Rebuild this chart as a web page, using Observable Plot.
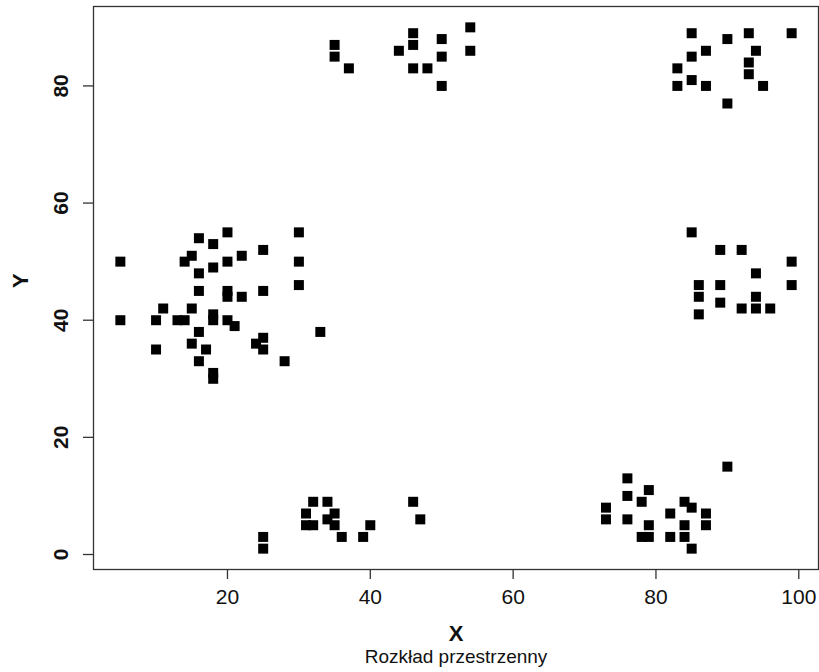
<!DOCTYPE html>
<html>
<head>
<meta charset="utf-8">
<script src="https://cdn.jsdelivr.net/npm/d3@7"></script>
<script src="https://cdn.jsdelivr.net/npm/@observablehq/plot@0.6"></script>
<style>
  html, body { margin: 0; padding: 0; background: #fff; }
  #chart svg { display: block; }
</style>
</head>
<body>
<div id="chart"></div>
<script>
// Point coordinates
const xs = [
  5, 5, 10, 10, 11, 13, 14, 14, 15, 16, 16, 16, 15, 16, 15, 17, 16, 18, 18, 18, 18, 18, 18,
  20, 20, 20, 20, 20, 21, 22, 22, 25, 25, 25, 24, 25, 28, 30, 30, 30, 33,
  35, 35, 37, 44, 46, 46, 46, 48, 50, 50, 50, 54, 54,
  85, 90, 93, 99, 87, 85, 83, 83, 85, 87, 94, 93, 93, 95, 90,
  85, 89, 92, 99, 94, 86, 89, 99, 86, 89, 94, 92, 94, 96, 86,
  25, 25, 32, 34, 31, 31, 32, 34, 35, 35, 36, 39, 40, 46, 47,
  90, 76, 76, 79, 78, 73, 73, 76, 79, 78, 79, 82, 82, 84, 85, 84, 84, 85, 87, 87
];
const ys = [
  50, 40, 40, 35, 42, 40, 40, 50, 51, 54, 48, 45, 42, 38, 36, 35, 33, 53, 49, 41, 40, 31, 30,
  55, 50, 45, 44, 40, 39, 51, 44, 52, 45, 37, 36, 35, 33, 55, 50, 46, 38,
  87, 85, 83, 86, 89, 87, 83, 83, 88, 85, 80, 90, 86,
  89, 88, 89, 89, 86, 85, 83, 80, 81, 80, 86, 84, 82, 80, 77,
  55, 52, 52, 50, 48, 46, 46, 46, 44, 43, 44, 42, 42, 42, 41,
  3, 1, 9, 9, 7, 5, 5, 6, 7, 5, 3, 3, 5, 9, 6,
  15, 13, 10, 11, 9, 8, 6, 6, 5, 3, 3, 7, 3, 9, 8, 5, 3, 1, 7, 5
];
const xTicks = [20, 40, 60, 80, 100];
const yTicks = [0, 20, 40, 60, 80];
const xLabel = "X";
const yLabel = "Y";
const subtitle = "Rozkład przestrzenny";

const points = xs.map((x, i) => ({x, y: ys[i]}));

// R-style 4% padding around the data range
const xMin = d3.min(xs), xMax = d3.max(xs);
const yMin = d3.min(ys), yMax = d3.max(ys);
const xPad = (xMax - xMin) * 0.04, yPad = (yMax - yMin) * 0.04;

const axisColor = "#333";
const textColor = "#111";

const chart = Plot.plot({
  width: 819,
  height: 672,
  marginLeft: 93,
  marginRight: 1,
  marginTop: 6,
  marginBottom: 103,
  style: {fontFamily: "'Liberation Sans', Arial, sans-serif", background: "#fff"},
  x: {domain: [xMin - xPad, xMax + xPad]},
  y: {domain: [yMin - yPad, yMax + yPad]},
  marks: [
    Plot.axisX({ticks: xTicks, tickSize: 10, tickFormat: () => "", label: null, stroke: axisColor, strokeWidth: 1.3}),
    Plot.axisY({ticks: yTicks, tickSize: 10, tickFormat: () => "", label: null, stroke: axisColor, strokeWidth: 1.3}),
    Plot.frame({stroke: axisColor, strokeWidth: 1.3}),
    Plot.text(xTicks, {x: d => d, frameAnchor: "bottom", dy: 28, fontSize: 21, lineAnchor: "middle", fill: textColor}),
    Plot.text(yTicks, {y: d => d, frameAnchor: "left", dx: -32, rotate: -90, fontSize: 21, fontWeight: "bold", textAnchor: "middle", lineAnchor: "middle", fill: textColor}),
    Plot.text([xLabel], {frameAnchor: "bottom", dy: 64, fontSize: 22, fontWeight: "bold", lineAnchor: "middle", fill: textColor}),
    Plot.text([subtitle], {frameAnchor: "bottom", dy: 87, fontSize: 19, lineAnchor: "middle", fill: textColor}),
    Plot.text([yLabel], {frameAnchor: "left", dx: -73, rotate: -90, fontSize: 22, fontWeight: "bold", lineAnchor: "middle", fill: textColor}),
    Plot.dot(points, {x: "x", y: "y", symbol: "square", r: 5.64, fill: "black", stroke: null})
  ]
});
document.getElementById("chart").appendChild(chart);
</script>
</body>
</html>
